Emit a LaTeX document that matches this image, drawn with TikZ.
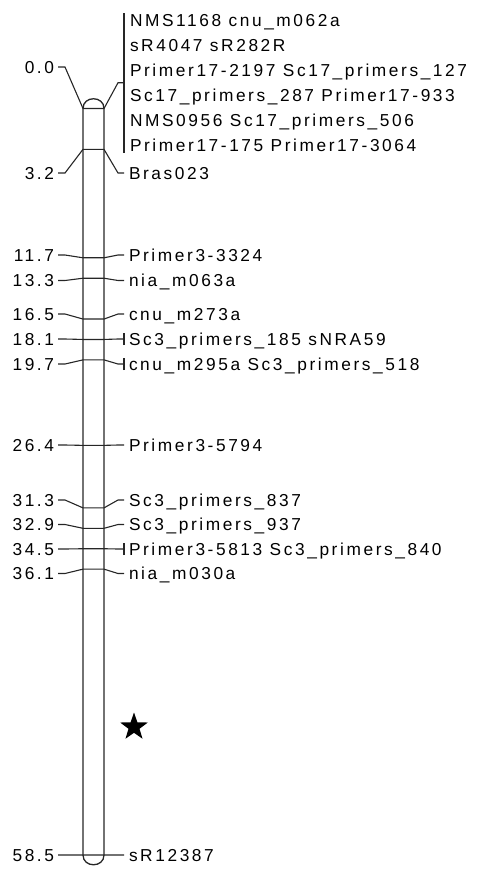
\documentclass[tikz,border=0pt]{standalone}
\usepackage{fontspec}
\setmainfont{Liberation Sans}[LetterSpace=15]
\usetikzlibrary{
    shapes.geometric, % for the star
    positioning
}

\begin{document}
\begin{tikzpicture}[x=1pt, y=-1pt,
    every node/.style={inner sep=0pt, text height=12.2pt, text depth=0pt,
        font=\fontsize{17.3}{20}\selectfont},
    cmlabel/.style={anchor=east, outer xsep=4pt},
    mklabel/.style={anchor=west, outer xsep=5pt},
    link/.style={line width=1.1pt, black!85},
    body/.style={line width=1.3pt, black!85}]
    \useasboundingbox (0,0) rectangle (480,871);
    \draw[body] (83,108.5) -- (83,855) .. controls (83,868) and (104,868) .. (104,855)
        -- (104,108.5) .. controls (104,95.5) and (83,95.5) .. (83,108.5);
    % top group of markers at 0.0
    \node[cmlabel] (cm0) at (58,67) {0.0};
    \foreach \name [count=\j] in {NMS1168 cnu\_m062a, sR4047 sR282R,
        Primer17-2197 Sc17\_primers\_127, Sc17\_primers\_287 Primer17-933,
        NMS0956 Sc17\_primers\_506, Primer17-175 Primer17-3064}
        \node[mklabel] (grp\j) at (125,{20.5+24.9*(\j-1)}) {\name};
    \coordinate (bartop) at (124,13);
    \coordinate (barbot) at (124,153);
    \coordinate (bar) at (124,82.75);
    \draw[link] (bartop) -- (barbot);
    \draw[link] (cm0.east) -- ++(7,0) -- (83,108.5) -- (104,108.5) -- (118,82.75) -- (bar);
    % single markers
    \foreach \cm/\yl/\name [count=\i] in {
        3.2/173/Bras023, 11.7/255/Primer3-3324, 13.3/280.5/nia\_m063a,
        16.5/314/cnu\_m273a, 18.1/339/Sc3\_primers\_185 sNRA59,
        19.7/364/cnu\_m295a Sc3\_primers\_518, 26.4/445/Primer3-5794,
        31.3/500/Sc3\_primers\_837, 32.9/524.5/Sc3\_primers\_937,
        34.5/549/Primer3-5813 Sc3\_primers\_840, 36.1/573.5/nia\_m030a,
        58.5/855/sR12387}
    {
        \pgfmathsetmacro\yp{108.5+12.76*\cm}
        \node[cmlabel] (cm\i) at (58,\yl) {\cm};
        \node[mklabel] (mk\i) at (124,\yl) {\name};
        \draw[link] (cm\i.east) -- ++(7,0) -- (83,\yp) -- (104,\yp)
            -- ([xshift=-6pt]mk\i.west) -- (mk\i.west);
    }
    \foreach \i in {5,6,10}
        \draw[link] ([yshift=-6pt]mk\i.west) -- ([yshift=6pt]mk\i.west);
    \node[star, star points=5, star point ratio=2.5, fill=black, minimum size=29pt,
        inner sep=0pt, text height=, text depth=] (qtl) at (134,727) {};
\end{tikzpicture}
\end{document}
